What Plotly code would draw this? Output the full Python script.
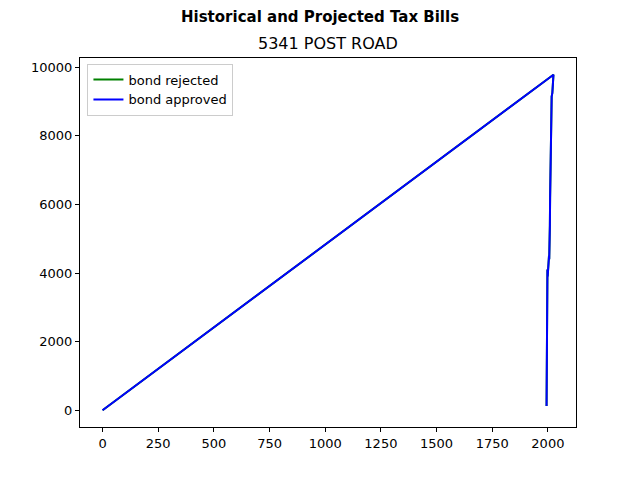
import plotly.graph_objects as go

# tax bill history, then projections; the trailing (0, 0) point is in the source data
years = [1994, 1995, 1996, 1997, 1998, 1999, 2000, 2001, 2002, 2003, 2004,
         2005, 2006, 2007, 2008, 2009, 2010, 2011, 2012, 2013, 2014, 2015,
         2016, 2017, 2018, 2019, 2020, 2021, 2022, 2023, 2024, 2025, 0]
bills_rejected = [120, 3700, 3850, 3950, 4100, 3900, 4050, 4200, 3950, 4350, 4150,
                  4500, 4400, 4650, 4700, 5400, 6200, 7000, 7700, 8300, 8800, 9100,
                  9120, 9150, 9180, 9200, 9250, 9350, 9450, 9550, 9650, 9780, 0]
bills_approved = [120, 3700, 3850, 3950, 4100, 3900, 4050, 4200, 3950, 4350, 4150,
                  4500, 4400, 4650, 4700, 5400, 6200, 7000, 7700, 8300, 8800, 9100,
                  9120, 9150, 9180, 9200, 9250, 9350, 9450, 9550, 9650, 9780, 0]

x_ticks = [0, 250, 500, 750, 1000, 1250, 1500, 1750, 2000]
y_ticks = [0, 2000, 4000, 6000, 8000, 10000]

FONT = "DejaVu Sans"

fig = go.Figure()
fig.add_trace(go.Scatter(x=years, y=bills_rejected, mode="lines", name="bond rejected",
                         line=dict(color="green", width=2)))
fig.add_trace(go.Scatter(x=years, y=bills_approved, mode="lines", name="bond approved",
                         line=dict(color="blue", width=2)))

# matplotlib-style 5% autoscale margins
xmin, xmax = min(years), max(years)
ymin, ymax = min(bills_approved), max(bills_approved)
xpad, ypad = (xmax - xmin) * 0.05, (ymax - ymin) * 0.05

axis_style = dict(showgrid=False, zeroline=False, showline=True, linecolor="black",
                  linewidth=1, mirror=True, ticks="outside", ticklen=4, tickcolor="black",
                  tickfont=dict(size=13, color="black"))

# page body adds an 8px offset, so margins are trimmed by 8
fig.update_layout(
    width=640, height=480,
    paper_bgcolor="white", plot_bgcolor="white",
    font=dict(family=FONT, size=13, color="black"),
    margin=dict(l=72, r=72, t=50, b=61),
    xaxis=dict(range=[xmin - xpad, xmax + xpad], tickvals=x_ticks,
               ticktext=[str(t) for t in x_ticks], **axis_style),
    yaxis=dict(range=[ymin - ypad, ymax + ypad], tickvals=y_ticks,
               ticktext=[str(t) for t in y_ticks], **axis_style),
    legend=dict(x=0.015, y=0.985, xanchor="left", yanchor="top",
                bgcolor="rgba(255,255,255,0.8)", bordercolor="#cccccc", borderwidth=1,
                font=dict(size=13), tracegroupgap=0),
    showlegend=True,
    annotations=[
        dict(text="<b>Historical and Projected Tax Bills</b>", xref="paper", yref="paper",
             x=(312 - 72) / 496, y=1 + (50 - 9) / 369, showarrow=False,
             font=dict(size=15), xanchor="center", yanchor="middle"),
        dict(text="5341 POST ROAD", xref="paper", yref="paper", x=0.5, y=1,
             yshift=3, showarrow=False, font=dict(size=16),
             xanchor="center", yanchor="bottom"),
    ],
)

fig.write_html("out.html")
